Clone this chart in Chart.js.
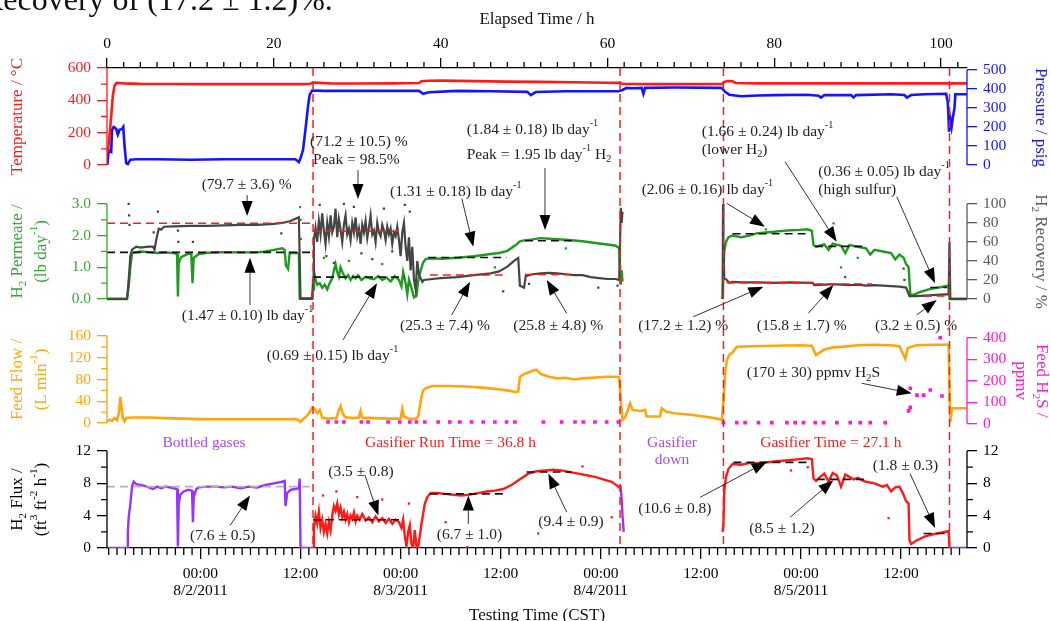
<!DOCTYPE html>
<html>
<head>
<meta charset="utf-8">
<script src="https://cdn.jsdelivr.net/npm/chart.js@4.4.1/dist/chart.umd.min.js"></script>
<style>
  html, body { margin: 0; padding: 0; background: #fff; }
  #c { display: block; }
</style>
</head>
<body>
<canvas id="c" width="1050" height="621"></canvas>
<script>
// ---- data: [elapsed hour, value] ----
const tempC = [[0.1,80],[0.3,180],[0.5,300],[0.7,430],[0.9,490],[1.15,508],[2,505],[4,502],[8,501],[12,500],[16,500],[20,500],[23.5,500],[24.3,503],[24.8,510],[25.5,508],[27,504],[30,504],[34,505],[37.4,507],[37.7,518],[38.5,521],[40,522],[44,519],[48,516],[52,514],[56,512],[60,509],[61.4,508],[61.8,503],[62.5,501],[66,500],[70,500],[73.7,501],[74,514],[74.4,519],[75,518],[75.4,507],[78,505],[84,505],[90,505],[96,505],[100.8,505],[101,500],[101.2,505],[103.1,505]];

const pressurePsig = [[0.05,0],[0.15,60],[0.35,75],[0.5,70],[0.6,185],[0.8,200],[1.1,190],[1.3,160],[1.5,185],[1.8,190],[1.95,200],[2.1,100],[2.3,10],[2.5,5],[2.8,28],[3.5,30],[6,30],[10,28],[14,30],[18,30],[22.6,30],[23.0,15],[23.2,35],[23.5,80],[23.8,190],[24.1,310],[24.3,370],[24.6,392],[26,390],[30,390],[34,390],[37.4,390],[37.9,375],[38.6,383],[42,390],[46,388],[50.4,385],[50.8,368],[51.4,384],[55,388],[60,388],[61.3,388],[61.8,395],[62.3,406],[63,404],[64.1,406],[64.3,375],[64.5,406],[68,408],[73.7,406],[74.1,385],[74.6,370],[76,362],[78,366],[80,368],[84,370],[85.3,365],[85.6,355],[86,368],[89.2,368],[89.5,355],[89.8,368],[94,372],[95.6,368],[95.9,355],[96.4,368],[98,372],[100.6,375],[100.8,330],[100.95,175],[101.1,240],[101.25,200],[101.4,250],[101.6,300],[101.7,372],[103.1,372]];

const permeateLbDay = [[0,0],[2.4,0],[2.6,0.4],[2.8,1.0],[3.0,1.45],[4,1.5],[5,1.48],[6,1.45],[7,1.47],[8,1.45],[8.4,1.42],[8.5,0.08],[8.6,1.15],[8.9,1.32],[9.5,1.4],[10.1,1.45],[10.25,0.5],[10.4,1.3],[11,1.42],[12,1.46],[14,1.48],[16,1.47],[18,1.47],[19,1.5],[20,1.55],[21,1.6],[21.3,1.55],[21.45,1.05],[21.7,0.95],[21.9,1.45],[22.5,1.45],[23.0,1.45],[23.1,0.02],[24.6,0.02],[24.7,0.3],[24.8,0.9],[25,0.6],[25.2,0.45],[25.5,0.5],[25.8,0.35],[26.1,0.45],[26.4,0.3],[26.7,0.5],[27,0.65],[27.2,0.9],[27.4,1.1],[27.6,0.85],[27.8,0.7],[28,1.0],[28.3,0.8],[28.6,0.65],[28.9,0.75],[29.2,0.6],[29.5,0.72],[29.8,0.65],[30.1,0.75],[30.5,0.6],[31,0.7],[31.5,0.65],[32,0.62],[32.5,0.72],[33,0.6],[33.5,0.68],[34,0.55],[34.5,0.72],[35,0.6],[35.3,0.4],[35.5,0.85],[35.8,0.5],[36,0.15],[36.2,0.6],[36.5,0.35],[36.8,0.05],[37.1,0.1],[37.3,0.55],[37.6,0.9],[37.9,1.15],[38.2,1.26],[39,1.28],[40,1.27],[42,1.3],[44,1.35],[46,1.42],[47,1.45],[48,1.52],[49,1.7],[49.5,1.82],[50,1.85],[51,1.88],[52,1.92],[53,1.9],[55,1.87],[57,1.82],[59,1.75],[60,1.72],[61,1.68],[61.4,1.6],[61.6,0.45],[61.7,0.9],[61.8,0.55],[61.9,null],[73.8,0],[73.9,0.8],[74,1.5],[74.2,1.8],[74.5,1.95],[75,2.0],[76,1.95],[77,2.0],[78,2.08],[79,2.1],[80,2.12],[81,2.15],[82,2.17],[83,2.18],[84,2.2],[84.5,2.15],[84.7,1.7],[85,1.65],[86,1.72],[86.5,1.55],[87,1.75],[88,1.68],[88.5,1.45],[89,1.7],[90,1.65],[91,1.6],[91.5,1.4],[92,1.55],[93,1.5],[94,1.45],[94.5,1.25],[95,1.4],[95.5,1.3],[95.8,1.1],[96.1,1.0],[96.3,0.15],[96.6,0.12],[97.5,0.22],[98.5,0.3],[99.5,0.35],[100.5,0.4],[100.9,0.42],[101,0],[103.1,0]];

const recoveryPct = [[0,0],[2.4,0],[2.6,20],[2.8,45],[3,52],[3.5,55],[4,54],[5,55],[5.5,55],[5.7,52],[5.9,62],[6.2,74],[6.5,73],[6.8,76],[8,76.5],[10,77],[12,77],[14,77.5],[16,78],[18,78],[20,79],[21,80],[22,82],[23,86],[23.2,0],[24.6,0],[24.7,20],[24.8,62],[25,75],[25.2,60],[25.4,82],[25.6,68],[25.8,90],[26,72],[26.2,58],[26.4,80],[26.6,66],[26.8,88],[27,70],[27.2,76],[27.4,95],[27.6,65],[27.8,84],[28,73],[28.2,60],[28.4,78],[28.6,88],[28.8,68],[29,74],[29.2,62],[29.4,80],[29.6,70],[29.8,86],[30,66],[30.2,74],[30.4,58],[30.6,78],[30.8,70],[31,82],[31.2,64],[31.4,75],[31.6,88],[31.8,68],[32,72],[32.2,60],[32.4,80],[32.6,70],[32.8,66],[33,78],[33.2,72],[33.4,62],[33.6,76],[33.8,68],[34,74],[34.2,58],[34.4,70],[34.6,66],[34.8,76],[35,62],[35.2,45],[35.4,70],[35.6,80],[35.8,55],[36,40],[36.2,65],[36.4,30],[36.6,55],[36.8,20],[37,10],[37.2,40],[37.4,25],[37.6,22],[37.8,18],[38,20],[39,21],[40,22],[42,23],[44,25],[46,27],[47,29],[48,34],[48.8,40],[49.3,43],[49.5,14],[50,12],[50.2,24],[51,26],[52,27],[53,27.5],[54,27],[55,26],[56,25],[57,25],[58,23],[59,22],[60,21],[61,21],[61.4,20],[61.6,96],[61.7,80],[61.8,92],[61.9,null],[73.8,0],[73.85,100],[73.9,60],[74,22],[74.3,20],[74.6,17],[75,18],[76,17.5],[78,17.5],[80,17],[82,17.5],[84,17],[84.6,17],[84.8,14.5],[86,15],[87,15.5],[88,15],[89,14.5],[90,15],[91,14],[92,14.5],[93,14],[94,13.5],[95,13],[95.8,12],[96.2,3],[97,3],[98,3.5],[99,4],[100,4.5],[100.9,5],[101.0,60],[101.1,0],[103.1,0]];

const feedFlowLmin = [[0,3],[0.3,6],[0.6,4],[0.9,9],[1.2,5],[1.45,20],[1.6,48],[1.75,28],[1.9,8],[2.1,3],[2.3,9],[3,10],[5,10],[7,9],[9,8],[11,7],[13,7],[15,7],[17,7],[19,7],[21,7],[22.6,7],[23,5],[23.2,2],[23.5,7],[23.9,12],[24.3,20],[24.6,28],[24.9,26],[25.2,18],[25.5,24],[25.8,10],[26.5,8],[27.5,9],[27.8,24],[28,31],[28.2,20],[28.5,11],[29.5,9],[30.2,10],[30.4,22],[30.6,10],[32,9],[34,8],[35.2,8],[35.4,26],[35.6,12],[36.2,8],[37,7],[37.3,12],[37.5,30],[37.7,48],[37.9,60],[38.2,64],[39,68],[41,68],[43,67],[45,65],[47,62],[48,60],[49,57],[49.3,58],[49.5,85],[50,90],[51,96],[51.5,98],[52,90],[53,85],[54,82],[55,83],[56,80],[57,82],[58,83],[59,84],[60,85],[61,85],[61.4,84],[61.6,40],[61.8,6],[62.1,10],[62.4,22],[62.7,36],[63,24],[64,22],[64.5,24],[64.7,12],[66.3,12],[66.5,27],[67,21],[68,18],[70,15],[72,11],[73.1,8],[73.7,6],[73.9,40],[74.1,90],[74.3,115],[74.6,125],[75,130],[75.5,140],[77,141],[80,142],[83,143],[84.5,142],[85,125],[85.3,128],[86,135],[87,139],[88,140],[90,143],[92,144],[94,143],[95,141],[95.7,118],[96,138],[97,143],[99,144],[100.9,144],[101,60],[101.1,2],[101.3,27],[103.1,27]];

const h2sHours = [26.5,27.5,28.4,30.5,31.3,33.7,35.1,36.3,37.1,38.1,39.7,41.1,42.3,43.7,45.1,46.5,47.9,48.9,52.3,54.5,56.1,57.1,58.5,59.9,61.3,73.9,75.5,76.5,78.1,79.7,81.5,82.5,83.5,84.9,85.9,87.5,89.1,90.3,91.5,93.3,96.1,96.3,96.3,97.1,97.9,98.7,99.9,100.1];
const h2sPpmv  = [8,8,8,8,8,8,8,8,8,8,8,8,8,8,8,8,8,8,8,8,8,8,8,8,8,5,5,5,5,5,5,5,5,5,5,5,5,5,5,5,60,76,165,133,133,157,400,129];

const fluxBottled = [[0,0],[2.4,0],[2.5,2],[2.6,3.8],[2.8,5.5],[3.0,7.6],[3.2,8.2],[3.5,7.9],[4,7.8],[4.5,7.7],[5,7.5],[5.5,7.3],[6,7.6],[6.5,7.4],[7,7.6],[7.5,7.5],[8,7.4],[8.4,7.3],[8.5,0.2],[8.6,5.5],[8.8,6.6],[9.2,7.0],[9.7,7.2],[10.2,7.1],[10.3,3.2],[10.4,6.3],[10.7,7.3],[11,7.5],[12,7.6],[13,7.6],[14,7.5],[15,7.6],[16,7.4],[17,7.6],[18,7.5],[19,7.8],[20,8.0],[21,8.2],[21.3,8.3],[21.4,5.2],[21.6,6.8],[22,7.2],[22.5,7.3],[23,7.4],[23.1,8.6],[23.2,0],[24.7,0],[24.8,null],[61.55,7.8],[61.7,6],[61.8,4],[61.95,2],[62,null],[73.8,0],[73.9,null],[101,0],[103.1,0]];

const fluxGasifier = [[24.7,0],[24.8,2.5],[25,4],[25.2,3],[25.4,4.5],[25.6,2.5],[25.8,3.5],[26,2],[26.2,3],[26.4,1.8],[26.6,3.2],[26.8,2.2],[27,4],[27.2,5.2],[27.4,4.6],[27.6,5.5],[27.8,4.2],[28,5],[28.2,3.8],[28.4,4.5],[28.6,3.5],[28.8,4.2],[29,3.2],[29.2,4],[29.4,3.6],[29.6,4.4],[29.8,3.3],[30,4],[30.3,3.5],[30.6,4.2],[31,3.4],[31.4,3.8],[31.8,3.2],[32.2,3.9],[32.6,3.3],[33,3.7],[33.4,3.1],[33.8,3.6],[34.2,3.0],[34.6,3.5],[35,3.2],[35.3,2.5],[35.5,3.5],[35.7,1.5],[35.9,0.2],[36.1,2],[36.3,2.8],[36.5,0.5],[36.7,0],[36.9,2.2],[37.1,0.2],[37.3,0],[37.5,1.5],[37.7,3],[37.9,4.2],[38.1,5.5],[38.4,6.3],[38.8,6.8],[39.5,6.8],[40.5,6.7],[41.5,6.6],[42.5,6.5],[43.5,6.6],[44.5,6.8],[45.5,7.0],[46.5,7.1],[47.5,7.3],[48.5,7.8],[49.5,8.5],[50.5,9.2],[51.5,9.5],[52.5,9.6],[53.5,9.7],[54.5,9.6],[55.5,9.4],[56.5,9.2],[57.5,9.0],[58.5,8.8],[59.5,8.5],[60.5,8.2],[61.3,7.6],[61.5,7.4],[61.6,null],[73.8,2],[73.9,3],[74,7],[74.2,8.8],[74.5,9.8],[75,10.4],[76,10.3],[77,10.5],[78,10.5],[79,10.6],[80,10.7],[81,10.8],[82,10.9],[83,11.0],[84,11.1],[84.5,11.0],[84.7,8.6],[85,8.3],[85.5,8.8],[86,9.2],[86.5,8.2],[87,9.3],[87.5,9.0],[88,7.6],[88.5,9.1],[89,8.8],[89.5,8.5],[90,8.7],[90.5,8.4],[91,8.2],[92,8.0],[93,7.6],[93.5,7.8],[94,7.0],[94.5,7.5],[95,7.6],[95.4,6.8],[95.8,5.8],[96.1,5.5],[96.2,1.0],[96.4,0.5],[97,0.9],[98,1.4],[99,1.7],[100,1.9],[100.9,2.1],[101,0]];

// scattered single readings away from the main traces
const recoveryStray = [[2.6,100],[2.65,88],[2.7,78],[5.6,70],[6.1,92],[8.5,72],[8.55,60],[10.3,60],[20.9,69],[25.5,99],[26.3,45],[27.2,38],[28.4,100],[29.6,97],[30.5,48],[31.8,42],[33.2,95],[34.2,50],[35.7,99],[36.3,92],[43.2,12],[47.5,8],[50.6,16],[58.9,12],[61.2,14],[88.5,23],[95.5,32],[95.6,20]];
const permeateStray = [[8.5,0.6],[10.3,0.8],[23.15,2.9],[23.2,2.5],[23.25,1.9],[26,1.3],[29,1.2],[33,1.1],[46.5,1.0],[55,1.6],[79,2.2],[87.1,2.39],[88,1.0],[90,1.3]];
const fluxStray = [[25.9,6.5],[27.5,7],[30,6.3],[33,6],[36.2,5.5],[40.6,3.2],[43.2,0.1],[51.7,1.8],[60.5,3.8],[57,10.1],[82,9.6],[84,10],[93.7,3.7]];

// averages: [from h, to h, value]
const meanPermeate = [[0,24.7,1.47],[24.7,35.7,0.69],[38.5,47.9,1.31],[50.1,55.7,1.84],[75,84.3,2.06],[84.9,90.9,1.66],[98.7,100.7,0.36]];
const meanRecovery = [[0,24.7,79.7],[24.7,35.1,71.2],[38.7,47.9,25.3],[50.1,55.5,25.8],[74.3,84.7,17.2],[84.9,91.7,15.8],[97.9,100.7,3.2]];
const meanFluxGasifier = [[24.7,35.3,3.5],[38.7,47.9,6.7],[50.3,55.7,9.4],[75.1,84.3,10.6],[85.1,90.9,8.5],[97.9,100.9,1.8]];
const meanFluxBottled = [[0,24.7,7.6]];

// gasifier on / off (elapsed h)
const gasifierMarks = [24.7, 61.5, 73.9, 101.0];

// axes
const elapsedTicks = [0, 20, 40, 60, 80, 100];
const clockHours = [11.2, 23.2, 35.2, 47.2, 59.2, 71.2, 83.2, 95.2];
const clockLabels = [['00:00','8/2/2011'], '12:00', ['00:00','8/3/2011'], '12:00', ['00:00','8/4/2011'], '12:00', ['00:00','8/5/2011'], '12:00'];

const RED = '#ff1a1a', BLUE = '#1414ff', GREEN = '#1f9a1f', GREEN_AX = '#33a833', GRAY = '#454545', GRAY_AX = '#5a5a5a',
      ORANGE = '#ffa60d', MAGENTA = '#ff1ad1', PURPLE = '#9933ff', PURPLE_TXT = '#a04cff', INK = '#222';
const FAMILY = "'Liberation Serif', 'DejaVu Serif', serif";

// text notes (x in h, y in the given axis units)
const notes = [
  {axis:'yPerm', lines:[['(79.7 ± 3.6) %',11.35,3.60]], arrow:[16.8,3.28,16.8,2.62]},
  {axis:'yPerm', lines:[['(1.47 ± 0.10) lb day^{-1}',8.96,-0.54]], arrow:[17.14,-0.19,17.14,1.30]},
  {axis:'yPerm', lines:[['(71.2 ± 10.5) %',24.34,4.956],['Peak = 98.5%',24.7,4.388]], arrow:[30.09,4.07,30.09,3.16]},
  {axis:'yPerm', lines:[['(1.84 ± 0.18) lb day^{-1}',43.12,5.335],['Peak = 1.95 lb day^{-1} H_{2}',43.12,4.546]], arrow:[52.51,4.135,52.51,2.177]},
  {axis:'yPerm', lines:[['(1.31 ± 0.18) lb day^{-1}',33.93,3.387]], arrow:[42.53,3.178,43.92,1.65]},
  {axis:'yPerm', lines:[['(0.69 ± 0.15) lb day^{-1}',19.15,-1.802]], arrow:[28.29,-1.296,32.37,0.494]},
  {axis:'yPerm', lines:[['(25.3 ± 7.4) %',35.13,-0.845]], arrow:[41.33,-0.507,43.52,0.545]},
  {axis:'yPerm', lines:[['(25.8 ± 4.8) %',48.71,-0.845]], arrow:[55.11,-0.453,52.72,0.598]},
  {axis:'yPerm', lines:[['(2.06 ± 0.16) lb day^{-1}',64.1,3.44]], arrow:[74.3,3.02,78.88,2.282]},
  {axis:'yPerm', lines:[['(1.66 ± 0.24) lb day^{-1}',71.3,5.28],['(lower H_{2})',71.3,4.70]], arrow:[81.29,4.334,87.48,1.808]},
  {axis:'yPerm', lines:[['(0.36 ± 0.05) lb day^{-1}',85.28,4.018],['(high sulfur)',85.28,3.44]], arrow:[94.68,3.229,99.27,0.494]},
  {axis:'yPerm', lines:[['(17.2 ± 1.2) %',63.7,-0.845]], arrow:[70.29,-0.561,78.68,0.387]},
  {axis:'yPerm', lines:[['(15.8 ± 1.7) %',77.9,-0.845]], arrow:[84.08,-0.453,87.08,0.44]},
  {axis:'yPerm', lines:[['(3.2 ± 0.5) %',92.08,-0.845]], arrow:[97.07,-0.507,99.47,-0.033]},
  {axis:'yFlow', lines:[['(170 ± 30) ppmv H_{2}S',76.69,91.4]], arrow:[90.48,73.0,96.48,54.6]},
  {axis:'yFlux', align:'center', color:PURPLE_TXT, lines:[['Bottled gases',11.63,12.99]]},
  {axis:'yFlux', align:'center', color:RED, lines:[['Gasifier Run Time = 36.8 h',41.18,12.99]]},
  {axis:'yFlux', align:'center', color:PURPLE_TXT, lines:[['Gasifier',67.74,12.99],['down',67.74,10.87]]},
  {axis:'yFlux', align:'center', color:RED, lines:[['Gasifier Time = 27.1 h',86.78,12.99]]},
  {axis:'yFlux', lines:[['(3.5 ± 0.8)',26.53,9.416]], arrow:[30.93,9.005,32.53,4.021]},
  {axis:'yFlux', lines:[['(7.6 ± 0.5)',9.95,1.529]], arrow:[14.75,2.775,17.14,6.513]},
  {axis:'yFlux', lines:[['(6.7 ± 1.0)',39.53,1.654]], arrow:[43.32,2.987,43.32,6.513]},
  {axis:'yFlux', lines:[['(9.4 ± 0.9)',51.71,3.186]], arrow:[55.11,4.432,52.91,9.217]},
  {axis:'yFlux', lines:[['(10.6 ± 0.8)',63.7,4.856]], arrow:[71.1,6.264,79.09,10.66]},
  {axis:'yFlux', lines:[['(8.5 ± 1.2)',77.0,2.364]], arrow:[81.9,3.81,87.08,8.382]},
  {axis:'yFlux', lines:[['(1.8 ± 0.3)',91.8,10.13]], arrow:[96.27,9.217,99.27,2.488]}
];

// axis frames: visible line range, minor ticks, titles
const frames = [
  {id:'yTemp', lo:0, hi:600, minor:[100,300,500], color:RED, titles:['Temperature / °C']},
  {id:'yPres', lo:0, hi:500, minor:[], color:BLUE, titles:['Pressure / psig']},
  {id:'yPerm', lo:0, hi:3, minor:[0.5,1.5,2.5], color:GREEN_AX, titles:['H_{2} Permeate /','(lb day^{-1})']},
  {id:'yRec', lo:0, hi:100, minor:[], color:GRAY_AX, titles:['H_{2} Recovery / %']},
  {id:'yFlow', lo:0, hi:160, minor:[20,60,100,140], color:ORANGE, titles:['Feed Flow /','(L min^{-1})']},
  {id:'yH2S', lo:0, hi:400, minor:[], color:MAGENTA, titles:['Feed H_{2}S /','ppmv']},
  {id:'yFlux', lo:0, hi:12, minor:[2,6,10], color:'#000', titles:['H_{2} Flux /','(ft^{3} ft^{-2} h^{-1})']},
  {id:'yFluxR', lo:0, hi:12, minor:[2,6,10], color:'#000', titles:[]}
];

// ---- helpers ----
const pts = a => a.map(([x, y]) => ({x, y}));
function trace(label, data, yAxisID, color, width, order) {
  return {label, data: pts(data), xAxisID:'x', yAxisID, showLine:true, borderColor:color, backgroundColor:color,
          borderWidth:width, pointRadius:0, spanGaps:false, tension:0, order};
}
function dots(label, data, yAxisID, color, r, style) {
  return {label, data: pts(data), xAxisID:'x', yAxisID, showLine:false, backgroundColor:color, borderColor:color,
          pointRadius:r, pointBorderWidth:0, pointStyle: style || 'rect', order:1};
}
function means(label, spans, yAxisID, color) {
  const data = [];
  spans.forEach(([a, b, v]) => { data.push({x:a, y:v}, {x:b, y:v}, {x:b, y:null}); });
  return {label, data, xAxisID:'x', yAxisID, showLine:true, borderColor:color, borderWidth:1.6, borderDash:[8,5],
          pointRadius:0, spanGaps:false, order:0};
}
function yAxis(pos, weight, stackWeight, min, max, major, color, digits) {
  return {
    type:'linear', position:pos, stack: pos === 'left' ? 'L' : 'R', stackWeight, weight, min, max,
    afterBuildTicks: s => { s.ticks = major.map(v => ({value:v})); },
    afterFit: s => { s.width = pos === 'left' ? 107 : 83; },
    ticks: {color, autoSkip:false, padding:6, font:{size:15.5}, callback: v => digits ? v.toFixed(digits) : String(v)},
    grid: {drawOnChartArea:false, color, tickColor:color, tickLength:10, lineWidth:1.3},
    border: {display:false}
  };
}

function richParts(str) {
  const parts = [], re = /([\^_])\{([^}]*)\}/g;
  let last = 0, m;
  while ((m = re.exec(str))) {
    if (m.index > last) parts.push({t:str.slice(last, m.index), k:0});
    parts.push({t:m[2], k: m[1] === '^' ? 1 : -1});
    last = re.lastIndex;
  }
  if (last < str.length) parts.push({t:str.slice(last), k:0});
  return parts;
}
function drawRich(ctx, str, x, y, size, align) {
  const parts = richParts(str);
  let w = 0;
  parts.forEach(p => { ctx.font = (p.k ? size * 0.66 : size) + 'px ' + FAMILY; p.w = ctx.measureText(p.t).width; w += p.w; });
  let cx = align === 'center' ? x - w / 2 : x;
  ctx.textAlign = 'left';
  ctx.textBaseline = 'middle';
  parts.forEach(p => {
    ctx.font = (p.k ? size * 0.66 : size) + 'px ' + FAMILY;
    const dy = p.k === 1 ? -size * 0.42 : p.k === -1 ? size * 0.3 : 0;
    ctx.fillText(p.t, cx, y + dy);
    cx += p.w;
  });
}
function drawArrow(ctx, x1, y1, x2, y2) {
  const a = Math.atan2(y2 - y1, x2 - x1), len = 15, half = 5.5;
  const bx = x2 - len * Math.cos(a), by = y2 - len * Math.sin(a);
  ctx.strokeStyle = '#333';
  ctx.lineWidth = 1;
  ctx.beginPath(); ctx.moveTo(x1, y1); ctx.lineTo(bx, by); ctx.stroke();
  ctx.fillStyle = '#000';
  ctx.beginPath();
  ctx.moveTo(x2, y2);
  ctx.lineTo(bx + half * Math.sin(a), by - half * Math.cos(a));
  ctx.lineTo(bx - half * Math.sin(a), by + half * Math.cos(a));
  ctx.closePath(); ctx.fill();
}

const overlay = {
  id: 'overlay',
  afterDatasetsDraw(chart) {
    const {ctx, chartArea: ca, scales} = chart;
    ctx.save();
    ctx.strokeStyle = RED; ctx.lineWidth = 1.5; ctx.setLineDash([8, 5]);
    gasifierMarks.forEach(h => {
      const px = scales.x.getPixelForValue(h);
      ctx.beginPath(); ctx.moveTo(px, ca.top); ctx.lineTo(px, ca.bottom); ctx.stroke();
    });
    ctx.restore();
  },
  afterDraw(chart) {
    const {ctx, chartArea: ca, scales} = chart;
    ctx.save();
    // axis lines, minor ticks, titles
    frames.forEach(f => {
      const sc = scales[f.id];
      const left = sc.position === 'left';
      const x0 = left ? sc.right : sc.left, dir = left ? -1 : 1;
      ctx.strokeStyle = f.color; ctx.lineWidth = 1.3;
      ctx.beginPath();
      ctx.moveTo(x0, sc.getPixelForValue(f.lo)); ctx.lineTo(x0, sc.getPixelForValue(f.hi));
      f.minor.forEach(v => { const y = sc.getPixelForValue(v); ctx.moveTo(x0, y); ctx.lineTo(x0 + dir * 6, y); });
      ctx.stroke();
      const cy = (sc.getPixelForValue(f.lo) + sc.getPixelForValue(f.hi)) / 2;
      ctx.fillStyle = f.color;
      f.titles.forEach((t, i) => {
        ctx.save();
        if (left) {
          ctx.translate(sc.left + 18 + i * 23.5, cy);
          ctx.rotate(-Math.PI / 2);
        } else {
          const tx = f.titles.length > 1 ? sc.right - 8.5 - i * 21.5 : sc.right - 10;
          ctx.translate(tx, cy);
          ctx.rotate(Math.PI / 2);
        }
        drawRich(ctx, t, 0, 0, 17, 'center');
        ctx.restore();
      });
    });
    // minor ticks on the time axes
    ctx.strokeStyle = '#000'; ctx.lineWidth = 1.3;
    ctx.beginPath();
    for (let h = 0; h <= scales.x.max; h += 2) {
      if (h % 20 === 0) continue;
      const px = scales.x.getPixelForValue(h);
      ctx.moveTo(px, ca.top); ctx.lineTo(px, ca.top - 6);
    }
    for (let h = clockHours[0] - 11; h <= scales.x2.max; h += 1) {
      if (clockHours.some(c => Math.abs(c - h) < 0.01)) continue;
      const px = scales.x2.getPixelForValue(h);
      ctx.moveTo(px, ca.bottom); ctx.lineTo(px, ca.bottom + 7);
    }
    ctx.stroke();
    // axis titles
    ctx.fillStyle = '#111';
    const midX = (ca.left + ca.right) / 2;
    drawRich(ctx, 'Elapsed Time / h', midX, 20, 17, 'center');
    drawRich(ctx, 'Testing Time (CST)', midX, 616, 17, 'center');
    // running text of the page above the figure
    ctx.font = '32px ' + FAMILY; ctx.textAlign = 'left'; ctx.textBaseline = 'alphabetic';
    ctx.fillText('Recovery of (17.2 ± 1.2)%.', -18, 10);
    // notes
    notes.forEach(n => {
      const sc = scales[n.axis];
      ctx.fillStyle = n.color || INK;
      n.lines.forEach(([t, hx, vy]) => drawRich(ctx, t, scales.x.getPixelForValue(hx), sc.getPixelForValue(vy), 15.5, n.align || 'left'));
      if (n.arrow) {
        const [ax, ay, bx, by] = n.arrow;
        drawArrow(ctx, scales.x.getPixelForValue(ax), sc.getPixelForValue(ay), scales.x.getPixelForValue(bx), sc.getPixelForValue(by));
      }
    });
    ctx.restore();
  }
};

Chart.defaults.font.family = FAMILY;
Chart.defaults.color = '#000';

const xTop = {
  type:'linear', position:'top', min:0, max:103.1,
  afterBuildTicks: s => { s.ticks = elapsedTicks.map(v => ({value:v})); },
  afterFit: s => { s.height = 68; },
  ticks: {autoSkip:false, maxRotation:0, padding:5, font:{size:15.5}, color:'#000'},
  grid: {drawOnChartArea:false, color:'#000', tickLength:10, lineWidth:1.3},
  border: {display:true, color:'#000', width:1.3}
};
const xBottom = {
  type:'linear', position:'bottom', min:0, max:103.1,
  afterBuildTicks: s => { s.ticks = clockHours.map(v => ({value:v})); },
  afterFit: s => { s.height = 73; },
  ticks: {autoSkip:false, maxRotation:0, padding:6, font:{size:15.5, lineHeight:1.1}, color:'#000',
          callback: (v, i) => clockLabels[i]},
  grid: {drawOnChartArea:false, color:'#000', tickLength:11, lineWidth:1.3},
  border: {display:true, color:'#000', width:1.3}
};

new Chart(document.getElementById('c'), {
  type: 'scatter',
  data: {
    datasets: [
      means('mean permeate', meanPermeate, 'yPerm', '#111'),
      means('mean recovery', meanRecovery, 'yRec', RED),
      means('mean flux', meanFluxGasifier, 'yFlux', '#111'),
      means('mean flux bottled', meanFluxBottled, 'yFlux', '#b5b5b5'),
      dots('recovery stray', recoveryStray, 'yRec', GRAY, 1.6),
      dots('permeate stray', permeateStray, 'yPerm', GREEN, 1.6),
      dots('flux stray', fluxStray, 'yFlux', RED, 1.6),
      dots('feed H2S', h2sHours.map((h, i) => [h, h2sPpmv[i]]), 'yH2S', MAGENTA, 2.6),
      trace('temperature', tempC, 'yTemp', RED, 2.6, 2),
      trace('pressure', pressurePsig, 'yPres', BLUE, 2.6, 2),
      trace('recovery', recoveryPct, 'yRec', GRAY, 2.2, 2),
      trace('permeate', permeateLbDay, 'yPerm', GREEN, 2.4, 3),
      trace('feed flow', feedFlowLmin, 'yFlow', ORANGE, 2.6, 2),
      trace('flux gasifier', fluxGasifier, 'yFlux', RED, 2.4, 2),
      trace('flux bottled', fluxBottled, 'yFlux', PURPLE, 2.4, 2)
    ]
  },
  options: {
    responsive: false,
    animation: false,
    devicePixelRatio: 1,
    layout: {padding: 0},
    plugins: {legend: {display:false}, tooltip: {enabled:false}},
    scales: {
      x: xTop,
      x2: xBottom,
      yTemp: yAxis('left', 4, 116, -117.5, 600, [0,200,400,600], RED, 0),
      yPerm: yAxis('left', 3, 133.5, -0.586, 3.63, [0,1,2,3], GREEN_AX, 1),
      yFlow: yAxis('left', 2, 119.5, -25.8, 194, [0,40,80,120,160], ORANGE, 0),
      yFlux: yAxis('left', 1, 111, 0, 13.74, [0,4,8,12], '#000', 0),
      yPres: yAxis('right', 1, 116, -100, 510.5, [0,100,200,300,400,500], BLUE, 0),
      yRec: yAxis('right', 2, 133.5, -19.5, 121, [0,20,40,60,80,100], GRAY_AX, 0),
      yH2S: yAxis('right', 3, 119.5, -61.7, 494, [0,100,200,300,400], MAGENTA, 0),
      yFluxR: yAxis('right', 4, 111, 0, 13.74, [0,4,8,12], '#000', 0)
    }
  },
  plugins: [overlay]
});
</script>
</body>
</html>
